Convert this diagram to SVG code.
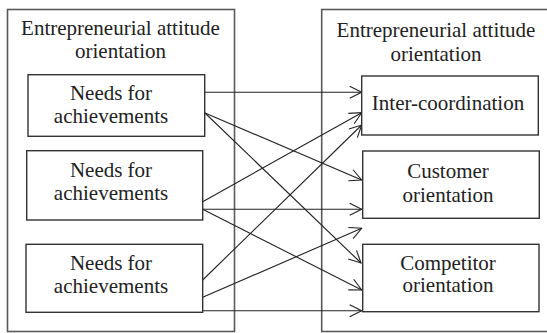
<svg xmlns="http://www.w3.org/2000/svg" width="547" height="333" viewBox="0 0 547 333">
<defs>
<marker id="arr" viewBox="0 0 14 14" refX="13" refY="7" markerWidth="14" markerHeight="14" markerUnits="userSpaceOnUse" orient="auto">
<path d="M1,1 L13,7 L1,13" fill="none" stroke="#222" stroke-width="1.1"/>
</marker>
<style>
.outer{fill:none;stroke:#5a5a5a;stroke-width:1.6}
.box{fill:#fff;stroke:#333;stroke-width:1.4}
.t{font-family:'Liberation Serif','DejaVu Serif',serif;font-size:21px;fill:#222;text-anchor:middle}
.ln{fill:none;stroke:#222;stroke-width:1.1;marker-end:url(#arr)}
</style>
</defs>
<rect width="547" height="333" fill="#fff"/>
<g id="group-left">
<rect class="outer" x="7.5" y="9.5" width="227" height="322"/>
<text class="t" font-family="Liberation Serif" x="120.5" y="34.5">Entrepreneurial attitude</text>
<text class="t" font-family="Liberation Serif" x="120.5" y="57.5">orientation</text>
</g>
<g id="group-right">
<rect class="outer" x="321.7" y="9.5" width="240" height="322"/>
<text class="t" font-family="Liberation Serif" x="436" y="37.3">Entrepreneurial attitude</text>
<text class="t" font-family="Liberation Serif" x="436" y="60.5">orientation</text>
</g>
<g id="connectors">
<line class="ln" x1="205" y1="92.3" x2="361.7" y2="92.3"/>
<line class="ln" x1="205" y1="113" x2="361.7" y2="180"/>
<line class="ln" x1="205" y1="113" x2="361" y2="263"/>
<line class="ln" x1="202.7" y1="201.7" x2="361.7" y2="112.7"/>
<line class="ln" x1="202.7" y1="209.3" x2="361.7" y2="209.3"/>
<line class="ln" x1="202.7" y1="209.3" x2="361.7" y2="290"/>
<line class="ln" x1="202.7" y1="280" x2="361.7" y2="125"/>
<line class="ln" x1="202.7" y1="297.3" x2="361.7" y2="228.3"/>
<line class="ln" x1="202.7" y1="310.7" x2="361.7" y2="310.7"/>
</g>
<g id="node-l1">
<rect class="box" x="28" y="74.7" width="176.7" height="61.6"/>
<text class="t" font-family="Liberation Serif" x="111" y="100">Needs for</text>
<text class="t" font-family="Liberation Serif" x="111" y="122.7">achievements</text>
</g>
<g id="node-l2">
<rect class="box" x="26.7" y="150.7" width="176" height="69.3"/>
<text class="t" font-family="Liberation Serif" x="111" y="176.7">Needs for</text>
<text class="t" font-family="Liberation Serif" x="111" y="200">achievements</text>
</g>
<g id="node-l3">
<rect class="box" x="26" y="244.3" width="176.7" height="68"/>
<text class="t" font-family="Liberation Serif" x="111" y="270">Needs for</text>
<text class="t" font-family="Liberation Serif" x="111" y="293.3">achievements</text>
</g>
<g id="node-r1">
<rect class="box" x="361.7" y="76" width="176.6" height="59"/>
<text class="t" font-family="Liberation Serif" x="448" y="110">Inter-coordination</text>
</g>
<g id="node-r2">
<rect class="box" x="362.7" y="151" width="176.6" height="67.3"/>
<text class="t" font-family="Liberation Serif" x="448" y="178.3">Customer</text>
<text class="t" font-family="Liberation Serif" x="448" y="201.7">orientation</text>
</g>
<g id="node-r3">
<rect class="box" x="362.7" y="244.3" width="176.3" height="67.4"/>
<text class="t" font-family="Liberation Serif" x="448" y="270">Competitor</text>
<text class="t" font-family="Liberation Serif" x="448" y="292.3">orientation</text>
</g>
</svg>
